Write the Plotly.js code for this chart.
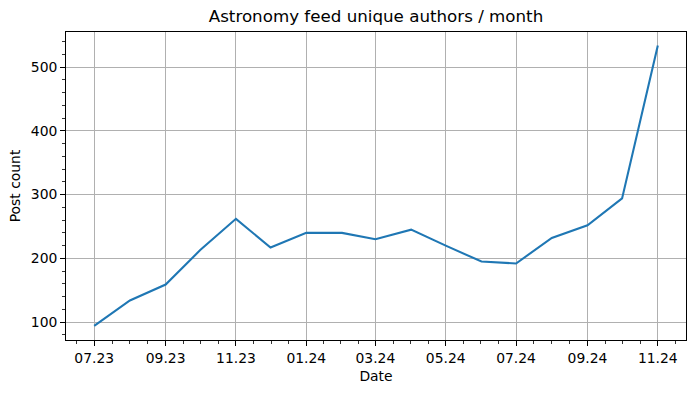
<!DOCTYPE html>
<html>
<head>
<meta charset="utf-8">
<script src="https://cdn.plot.ly/plotly-3.0.1.min.js"></script>
<style>html,body{margin:0;padding:0;background:#fff;}#chart{width:695px;height:393px;}</style>
</head>
<body>
<div id="chart"></div>
<script>
const months = ["2023-07-01","2023-08-01","2023-09-01","2023-10-01","2023-11-01","2023-12-01",
  "2024-01-01","2024-02-01","2024-03-01","2024-04-01","2024-05-01","2024-06-01",
  "2024-07-01","2024-08-01","2024-09-01","2024-10-01","2024-11-01"];
const authors = [94, 134, 159, 213, 262, 217, 240, 240, 230, 245, 220, 195, 192, 232, 252, 294, 534];
const chartTitle = "Astronomy feed unique authors / month";
const xLabel = "Date";
const yLabel = "Post count";

// minor ticks: split each 2-month major interval into 4 parts
const majors = [];
for (let y = 2023, m = 4; ; ) {
  const d = new Date(Date.UTC(y, m, 1));
  majors.push(d.getTime());
  m += 2; if (m > 11) { m -= 12; y += 1; }
  if (y === 2025 && m > 2) break;
}
const minorVals = [];
for (let i = 0; i < majors.length - 1; i++) {
  const a = majors[i], b = majors[i+1];
  for (let k = 1; k < 4; k++) {
    const t = a + (b - a) * k / 4;
    minorVals.push(new Date(t).toISOString().slice(0,19).replace('T',' '));
  }
}

const t0 = Date.parse(months[0] + "T00:00:00Z"), t1 = Date.parse(months[months.length-1] + "T00:00:00Z");
const pad = (t1 - t0) * 0.05;
const fmt = t => new Date(t).toISOString().slice(0,19).replace('T',' ');

const font = {family: "DejaVu Sans, sans-serif", size: 13.9, color: "#000"};

Plotly.newPlot("chart", [{
  x: months, y: authors, type: "scatter", mode: "lines",
  line: {color: "#1f77b4", width: 2.08}
}], {
  width: 695, height: 393,
  margin: {l: 66, r: 9, t: 32, b: 53},
  paper_bgcolor: "#fff", plot_bgcolor: "#fff",
  showlegend: false,
  font: font,
  title: {text: chartTitle, font: {family: "DejaVu Sans, sans-serif", size: 16.7, color: "#000"},
    x: 0.5, xref: "paper", xanchor: "center", y: 1, yref: "paper", yanchor: "bottom", pad: {b: 10}},
  xaxis: {
    type: "date", range: [fmt(t0 - pad), fmt(t1 + pad)],
    tickmode: "linear", tick0: "2023-07-01", dtick: "M2", tickformat: "%m.%y",
    ticks: "outside", ticklen: 4.9, tickwidth: 1, tickcolor: "#000",
    showgrid: true, gridcolor: "#b0b0b0", gridwidth: 1,
    showline: true, linecolor: "#000", linewidth: 1, mirror: true,
    zeroline: false, tickfont: font,
    minor: {tickmode: "array", tickvals: minorVals, ticks: "outside", ticklen: 2.8, tickwidth: 0.8, tickcolor: "#000", showgrid: false},
    title: {text: xLabel, font: font, standoff: 6}
  },
  yaxis: {
    range: [72, 555], tickmode: "linear", tick0: 0, dtick: 100,
    ticks: "outside", ticklen: 4.9, tickwidth: 1, tickcolor: "#000",
    showgrid: true, gridcolor: "#b0b0b0", gridwidth: 1,
    showline: true, linecolor: "#000", linewidth: 1, mirror: true,
    zeroline: false, tickfont: font,
    minor: {tickmode: "linear", tick0: 0, dtick: 20, ticks: "outside", ticklen: 2.8, tickwidth: 0.8, tickcolor: "#000", showgrid: false},
    title: {text: yLabel, font: font, standoff: 6}
  }
}, {displayModeBar: false, staticPlot: true});
</script>
</body>
</html>
